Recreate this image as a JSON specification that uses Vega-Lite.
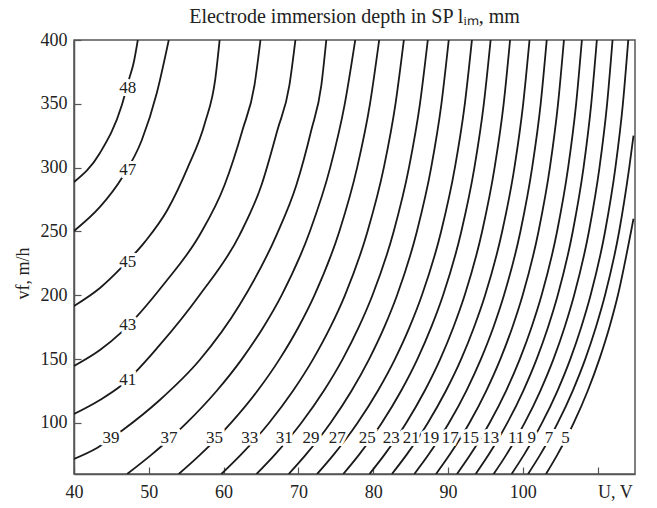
{
  "$schema": "https://vega.github.io/schema/vega-lite/v6.json",
  "width": 561,
  "height": 434,
  "autosize": {"type": "none"},
  "padding": {"left": 74, "top": 40, "right": 22, "bottom": 34},
  "background": "white",
  "config": {"view": {"stroke": "#555", "strokeWidth": 1.5}, "font": "Liberation Serif"},
  "title": {"text": "Electrode immersion depth in SP lᵢₘ, mm", "fontSize": 20, "font": "Liberation Serif", "fontWeight": "normal", "color": "#222", "offset": 4},
  "datasets": {
    "contours": [
      {"c":"48","U":40,"v":288.8},{"c":"48","U":43.47,"v":311.5},{"c":"48","U":46.4,"v":349.1},{"c":"48","U":47.33,"v":368.7},{"c":"48","U":48.0,"v":382.8},{"c":"48","U":48.53,"v":400},
      {"c":"47","U":40,"v":250.4},{"c":"47","U":43.47,"v":269.2},{"c":"47","U":46.4,"v":291.9},{"c":"47","U":49.07,"v":321.7},{"c":"47","U":51.07,"v":358.5},{"c":"47","U":52.67,"v":400},
      {"c":"45","U":40,"v":191.6},{"c":"45","U":43.47,"v":205.7},{"c":"45","U":46.4,"v":222.0},{"c":"45","U":49.5,"v":242.0},{"c":"45","U":52.5,"v":267.0},{"c":"45","U":55.2,"v":300.0},{"c":"45","U":57.5,"v":335.0},{"c":"45","U":58.9,"v":370.0},{"c":"45","U":59.47,"v":400},
      {"c":"43","U":40,"v":144.6},{"c":"43","U":43.47,"v":157.1},{"c":"43","U":46.4,"v":171.3},{"c":"43","U":52.13,"v":209.6},{"c":"43","U":56.8,"v":247.2},{"c":"43","U":60.13,"v":286.4},{"c":"43","U":62.53,"v":329.5},{"c":"43","U":64.13,"v":364.7},{"c":"43","U":64.93,"v":400},
      {"c":"41","U":40,"v":107.0},{"c":"41","U":43.47,"v":118.0},{"c":"41","U":46.4,"v":129.7},{"c":"41","U":51.47,"v":161.1},{"c":"41","U":56.8,"v":200.2},{"c":"41","U":62.13,"v":247.2},{"c":"41","U":65.07,"v":286.4},{"c":"41","U":67.2,"v":329.5},{"c":"41","U":68.8,"v":364.7},{"c":"41","U":69.6,"v":400},
      {"c":"39","U":40,"v":71.8},{"c":"39","U":43.07,"v":80.4},{"c":"39","U":46.53,"v":94.5},{"c":"39","U":51.47,"v":118.0},{"c":"39","U":56.8,"v":149.3},{"c":"39","U":62.13,"v":192.4},{"c":"39","U":67.07,"v":247.2},{"c":"39","U":69.73,"v":286.4},{"c":"39","U":71.73,"v":329.5},{"c":"39","U":73.07,"v":364.7},{"c":"39","U":73.73,"v":400},
      {"c":"37","U":47.1,"v":60},{"c":"37","U":50.33,"v":75},{"c":"37","U":52.9,"v":88},{"c":"37","U":55.06,"v":100},{"c":"37","U":59.06,"v":125},{"c":"37","U":62.44,"v":150},{"c":"37","U":65.31,"v":175},{"c":"37","U":67.75,"v":200},{"c":"37","U":71.53,"v":250},{"c":"37","U":74.25,"v":300},{"c":"37","U":76.2,"v":350},{"c":"37","U":77.6,"v":400},
      {"c":"35","U":54.0,"v":60},{"c":"35","U":56.84,"v":75},{"c":"35","U":59.09,"v":88},{"c":"35","U":60.99,"v":100},{"c":"35","U":64.51,"v":125},{"c":"35","U":67.48,"v":150},{"c":"35","U":70.0,"v":175},{"c":"35","U":72.14,"v":200},{"c":"35","U":75.47,"v":250},{"c":"35","U":77.85,"v":300},{"c":"35","U":79.57,"v":350},{"c":"35","U":80.8,"v":400},
      {"c":"33","U":59.7,"v":60},{"c":"33","U":62.29,"v":75},{"c":"33","U":64.34,"v":88},{"c":"33","U":66.07,"v":100},{"c":"33","U":69.26,"v":125},{"c":"33","U":71.97,"v":150},{"c":"33","U":74.27,"v":175},{"c":"33","U":76.22,"v":200},{"c":"33","U":79.24,"v":250},{"c":"33","U":81.42,"v":300},{"c":"33","U":82.98,"v":350},{"c":"33","U":84.1,"v":400},
      {"c":"31","U":64.4,"v":60},{"c":"31","U":66.83,"v":75},{"c":"31","U":68.75,"v":88},{"c":"31","U":70.38,"v":100},{"c":"31","U":73.38,"v":125},{"c":"31","U":75.92,"v":150},{"c":"31","U":78.07,"v":175},{"c":"31","U":79.9,"v":200},{"c":"31","U":82.74,"v":250},{"c":"31","U":84.78,"v":300},{"c":"31","U":86.25,"v":350},{"c":"31","U":87.3,"v":400},
      {"c":"29","U":68.7,"v":60},{"c":"29","U":70.97,"v":75},{"c":"29","U":72.77,"v":88},{"c":"29","U":74.29,"v":100},{"c":"29","U":77.09,"v":125},{"c":"29","U":79.46,"v":150},{"c":"29","U":81.48,"v":175},{"c":"29","U":83.19,"v":200},{"c":"29","U":85.84,"v":250},{"c":"29","U":87.75,"v":300},{"c":"29","U":89.12,"v":350},{"c":"29","U":90.1,"v":400},
      {"c":"27","U":72.5,"v":60},{"c":"27","U":74.69,"v":75},{"c":"27","U":76.43,"v":88},{"c":"27","U":77.9,"v":100},{"c":"27","U":80.61,"v":125},{"c":"27","U":82.91,"v":150},{"c":"27","U":84.86,"v":175},{"c":"27","U":86.51,"v":200},{"c":"27","U":89.08,"v":250},{"c":"27","U":90.92,"v":300},{"c":"27","U":92.25,"v":350},{"c":"27","U":93.2,"v":400},
      {"c":"25","U":76.0,"v":60},{"c":"25","U":78.09,"v":75},{"c":"25","U":79.74,"v":88},{"c":"25","U":81.14,"v":100},{"c":"25","U":83.72,"v":125},{"c":"25","U":85.91,"v":150},{"c":"25","U":87.76,"v":175},{"c":"25","U":89.34,"v":200},{"c":"25","U":91.78,"v":250},{"c":"25","U":93.53,"v":300},{"c":"25","U":94.79,"v":350},{"c":"25","U":95.7,"v":400},
      {"c":"23","U":79.5,"v":60},{"c":"23","U":81.49,"v":75},{"c":"23","U":83.07,"v":88},{"c":"23","U":84.41,"v":100},{"c":"23","U":86.87,"v":125},{"c":"23","U":88.96,"v":150},{"c":"23","U":90.72,"v":175},{"c":"23","U":92.23,"v":200},{"c":"23","U":94.56,"v":250},{"c":"23","U":96.23,"v":300},{"c":"23","U":97.44,"v":350},{"c":"23","U":98.3,"v":400},
      {"c":"21","U":82.5,"v":60},{"c":"21","U":84.45,"v":75},{"c":"21","U":86.0,"v":88},{"c":"21","U":87.3,"v":100},{"c":"21","U":89.71,"v":125},{"c":"21","U":91.76,"v":150},{"c":"21","U":93.48,"v":175},{"c":"21","U":94.96,"v":200},{"c":"21","U":97.24,"v":250},{"c":"21","U":98.88,"v":300},{"c":"21","U":100.05,"v":350},{"c":"21","U":100.9,"v":400},
      {"c":"19","U":85.5,"v":60},{"c":"19","U":87.38,"v":75},{"c":"19","U":88.86,"v":88},{"c":"19","U":90.12,"v":100},{"c":"19","U":92.44,"v":125},{"c":"19","U":94.4,"v":150},{"c":"19","U":96.07,"v":175},{"c":"19","U":97.48,"v":200},{"c":"19","U":99.68,"v":250},{"c":"19","U":101.25,"v":300},{"c":"19","U":102.39,"v":350},{"c":"19","U":103.2,"v":400},
      {"c":"17","U":88.4,"v":60},{"c":"17","U":90.21,"v":75},{"c":"17","U":91.65,"v":88},{"c":"17","U":92.86,"v":100},{"c":"17","U":95.1,"v":125},{"c":"17","U":97.0,"v":150},{"c":"17","U":98.61,"v":175},{"c":"17","U":99.98,"v":200},{"c":"17","U":102.1,"v":250},{"c":"17","U":103.62,"v":300},{"c":"17","U":104.71,"v":350},{"c":"17","U":105.5,"v":400},
      {"c":"15","U":91.2,"v":60},{"c":"15","U":92.97,"v":75},{"c":"15","U":94.37,"v":88},{"c":"15","U":95.56,"v":100},{"c":"15","U":97.75,"v":125},{"c":"15","U":99.6,"v":150},{"c":"15","U":101.17,"v":175},{"c":"15","U":102.51,"v":200},{"c":"15","U":104.58,"v":250},{"c":"15","U":106.06,"v":300},{"c":"15","U":107.13,"v":350},{"c":"15","U":107.9,"v":400},
      {"c":"13","U":93.7,"v":60},{"c":"13","U":95.42,"v":75},{"c":"13","U":96.78,"v":88},{"c":"13","U":97.93,"v":100},{"c":"13","U":100.05,"v":125},{"c":"13","U":101.85,"v":150},{"c":"13","U":103.37,"v":175},{"c":"13","U":104.67,"v":200},{"c":"13","U":106.68,"v":250},{"c":"13","U":108.12,"v":300},{"c":"13","U":109.15,"v":350},{"c":"13","U":109.9,"v":400},
      {"c":"11","U":96.1,"v":60},{"c":"11","U":97.79,"v":75},{"c":"11","U":99.12,"v":88},{"c":"11","U":100.25,"v":100},{"c":"11","U":102.33,"v":125},{"c":"11","U":104.1,"v":150},{"c":"11","U":105.59,"v":175},{"c":"11","U":106.86,"v":200},{"c":"11","U":108.84,"v":250},{"c":"11","U":110.25,"v":300},{"c":"11","U":111.27,"v":350},{"c":"11","U":112.0,"v":400},
      {"c":"9","U":98.5,"v":60},{"c":"9","U":100.15,"v":75},{"c":"9","U":101.46,"v":88},{"c":"9","U":102.57,"v":100},{"c":"9","U":104.62,"v":125},{"c":"9","U":106.35,"v":150},{"c":"9","U":107.81,"v":175},{"c":"9","U":109.06,"v":200},{"c":"9","U":111.0,"v":250},{"c":"9","U":112.38,"v":300},{"c":"9","U":113.38,"v":350},{"c":"9","U":114.1,"v":400},
      {"c":"7","U":100.7,"v":60},{"c":"7","U":102.31,"v":75},{"c":"7","U":103.59,"v":88},{"c":"7","U":104.67,"v":100},{"c":"7","U":106.66,"v":125},{"c":"7","U":108.35,"v":150},{"c":"7","U":109.77,"v":175},{"c":"7","U":110.99,"v":200},{"c":"7","U":112.88,"v":250},{"c":"7","U":114.23,"v":300},{"c":"7","U":114.8,"v":325},
      {"c":"5","U":103.1,"v":60},{"c":"5","U":104.61,"v":75},{"c":"5","U":105.8,"v":88},{"c":"5","U":106.81,"v":100},{"c":"5","U":108.67,"v":125},{"c":"5","U":110.24,"v":150},{"c":"5","U":111.58,"v":175},{"c":"5","U":112.71,"v":200},{"c":"5","U":114.47,"v":250},{"c":"5","U":114.8,"v":260}
    ],
    "labels": [
      {"t":"48","U":47.2,"v":362.4},{"t":"47","U":47.2,"v":298.2},{"t":"45","U":47.2,"v":226.1},{"t":"43","U":47.2,"v":176.7},{"t":"41","U":47.2,"v":133.6},{"t":"39","U":44.93,"v":88.2},
      {"t":"37","U":52.7,"v":88.2},{"t":"35","U":58.8,"v":88.2},{"t":"33","U":63.5,"v":88.2},{"t":"31","U":68.1,"v":88.2},{"t":"29","U":71.7,"v":88.2},{"t":"27","U":75.2,"v":88.2},{"t":"25","U":79.2,"v":88.2},{"t":"23","U":82.4,"v":88.2},{"t":"21","U":85.1,"v":88.2},{"t":"19","U":87.7,"v":88.2},{"t":"17","U":90.3,"v":88.2},{"t":"15","U":93.0,"v":88.2},{"t":"13","U":95.7,"v":88.2},{"t":"11","U":99.1,"v":88.2},{"t":"9","U":101.2,"v":88.2},{"t":"7","U":103.5,"v":88.2},{"t":"5","U":105.7,"v":88.2}
    ]
  },
  "encoding": {
    "x": {"field": "U", "type": "quantitative", "scale": {"domain": [40, 115], "nice": false, "zero": false},
      "axis": {"values": [40, 50, 60, 70, 80, 90, 100, 110], "labelExpr": "datum.value == 110 ? 'U, V' : datum.label", "labelAlign": {"condition": {"test": "datum.value == 110", "value": "left"}, "value": "center"}, "title": null, "grid": false, "tickSize": -7, "tickColor": "#555", "tickWidth": 1.2, "domainColor": "#555", "domainWidth": 1.5, "labelFontSize": 18, "labelColor": "#222", "labelFont": "Liberation Serif", "labelPadding": 16, "labelFlush": false}},
    "y": {"field": "v", "type": "quantitative", "scale": {"domain": [60, 400], "nice": false, "zero": false},
      "axis": {"values": [100, 150, 200, 250, 300, 350, 400], "title": "vf, m/h", "titleFontSize": 18, "titleFont": "Liberation Serif", "titleFontWeight": "normal", "titleColor": "#222", "titleX": -42, "titleY": 233, "titleAnchor": "middle", "grid": false, "tickSize": -7, "tickColor": "#555", "tickWidth": 1.2, "domainColor": "#555", "domainWidth": 1.5, "labelFontSize": 18, "labelColor": "#222", "labelFont": "Liberation Serif", "labelPadding": 14, "labelFlush": false}}
  },
  "layer": [
    {"data": {"name": "contours"}, "mark": {"type": "line", "color": "#1a1a1a", "strokeWidth": 1.8, "interpolate": "monotone", "clip": true},
      "encoding": {"detail": {"field": "c"}, "order": {"field": "v", "type": "quantitative"}}},
    {"data": {"name": "labels"}, "mark": {"type": "text", "fontSize": 17, "font": "Liberation Serif", "fill": "white", "stroke": "white", "strokeWidth": 6},
      "encoding": {"text": {"field": "t"}}},
    {"data": {"name": "labels"}, "mark": {"type": "text", "fontSize": 17, "font": "Liberation Serif", "color": "#222"},
      "encoding": {"text": {"field": "t"}}}
  ]
}
